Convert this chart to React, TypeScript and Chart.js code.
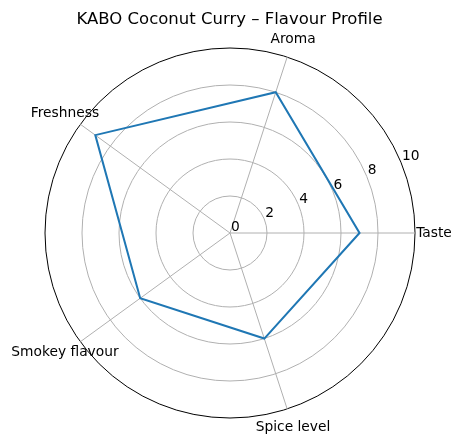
import React, { useEffect, useRef } from "react";
import { Chart, registerables } from "chart.js";

Chart.register(...registerables);

const TITLE = "KABO Coconut Curry – Flavour Profile";
const categories = ["Taste", "Aroma", "Freshness", "Smokey flavour", "Spice level"];
const scores = [7, 8, 9, 6, 6];
const rTicks = [0, 2, 4, 6, 8, 10];

const FONT = '"DejaVu Sans", "Noto Sans", sans-serif';

// matplotlib goes counter-clockwise from east; Chart.js goes clockwise.
const order = [0, ...categories.map((_, i) => i).slice(1).reverse()];
const chartLabels = order.map((i) => categories[i]);
const chartValues = order.map((i) => scores[i]);

const textPlugin = {
  id: "mplText",
  afterDraw(chart: any) {
    const scale = chart.scales.r;
    const ctx = chart.ctx;
    ctx.save();
    ctx.fillStyle = "#000";
    ctx.font = `16.5px ${FONT}`;
    ctx.textAlign = "center";
    ctx.textBaseline = "alphabetic";
    ctx.fillText(TITLE, scale.xCenter - 0.5, 24.3);

    ctx.font = `13.8px ${FONT}`;
    ctx.textBaseline = "middle";
    (chart.data.labels as string[]).forEach((lab, i) => {
      const p = scale.getPointPosition(i, scale.drawingArea + 19);
      ctx.fillText(lab, p.x, p.y);
    });

    ctx.textAlign = "left";
    ctx.textBaseline = "alphabetic";
    const a = (22.5 * Math.PI) / 180;
    rTicks.forEach((v) => {
      const d = scale.getDistanceFromCenterForValue(v);
      ctx.fillText(String(v), scale.xCenter + d * Math.cos(a) + 1, scale.yCenter - d * Math.sin(a) - 2);
    });
    ctx.restore();
  },
};

export default function App() {
  const ref = useRef<HTMLCanvasElement>(null);
  useEffect(() => {
    if (!ref.current) return;
    const chart = new Chart(ref.current, {
      type: "radar",
      data: {
        labels: chartLabels,
        datasets: [
          {
            data: chartValues,
            borderColor: "#1f77b4",
            backgroundColor: "rgba(0,0,0,0)",
            borderWidth: 2,
            fill: false,
            pointRadius: 0,
            pointHoverRadius: 0,
            tension: 0,
          },
        ],
      },
      options: {
        animation: false,
        responsive: true,
        maintainAspectRatio: false,
        layout: { padding: { left: 45, right: 46, top: 48, bottom: 26 } },
        plugins: {
          legend: { display: false },
          tooltip: { enabled: false },
          title: { display: false },
        },
        scales: {
          r: {
            min: 0,
            max: 10,
            startAngle: 90,
            ticks: { stepSize: 2, display: false },
            pointLabels: { display: false },
            angleLines: { color: "#b0b0b0", lineWidth: 1 },
            grid: {
              circular: true,
              color: (c: any) => (c.tick && c.tick.value === 10 ? "#000000" : "#b0b0b0"),
              lineWidth: 1,
            },
          },
        },
      },
      plugins: [textPlugin],
    });
    return () => chart.destroy();
  }, []);
  return (
    <div style={{ position: "fixed", left: 0, top: 0, width: 461, height: 444, background: "#fff" }}>
      <canvas ref={ref} style={{ display: "block" }} />
    </div>
  );
}
